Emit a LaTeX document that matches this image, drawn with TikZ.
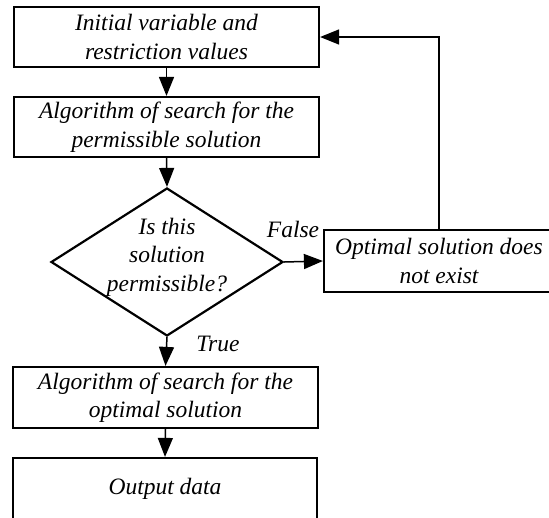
\documentclass[tikz,border=0pt]{standalone}
\usepackage{fontspec}
\setmainfont{Liberation Serif}
\usetikzlibrary{arrows.meta,shapes.geometric}
\begin{document}
\begin{tikzpicture}[x=1pt,y=-1pt,
  every node/.style={font=\fontsize{23.5}{28.5}\selectfont\itshape},
  box/.style={draw,line width=2.2pt,rectangle,inner sep=0pt,align=center,
    minimum width=305pt,minimum height=60pt},
  dia/.style={draw,line width=2.2pt,diamond,inner sep=0pt,
    minimum width=232pt,minimum height=148pt},
  conn/.style={line width=1.5pt,-{Triangle[length=19pt,width=15pt]}},
  lbl/.style={inner sep=0pt}]
\useasboundingbox (0,0) rectangle (549,517);
\clip (0,0) rectangle (549,517);
\node[box] (b1) at (166.5,37) {Initial variable and\\restriction values};
\node[box] (b2) at (166.5,127) {Algorithm of search for the\\permissible solution};
\node[dia,label={[align=center,inner sep=0pt,yshift=5pt]center:Is this\\solution\\permissible?}] (d) at (167,262) {};
\node[box,minimum width=230pt,minimum height=62pt] (opt) at (439,261) {Optimal solution does\\not exist};
\node[box,minimum height=61pt] (b4) at (165.5,397.5) {Algorithm of search for the\\optimal solution};
\node[box,minimum width=304pt,minimum height=61pt] (b5) at (165,488.5) {Output data};
\node[lbl] (fl) at (293,229) {False};
\node[lbl] (tl) at (218,344) {True};
\draw[conn] (b1.south) -- (b2.north);
\draw[conn] (b2.south) -- (d.north);
\draw[conn] (d.east) -- (opt.west);
\draw[conn] (d.south) -- (b4.north);
\draw[conn] (b4.south) -- (b5.north);
\draw[conn] (opt.north) |- (b1.east);
\end{tikzpicture}
\end{document}
